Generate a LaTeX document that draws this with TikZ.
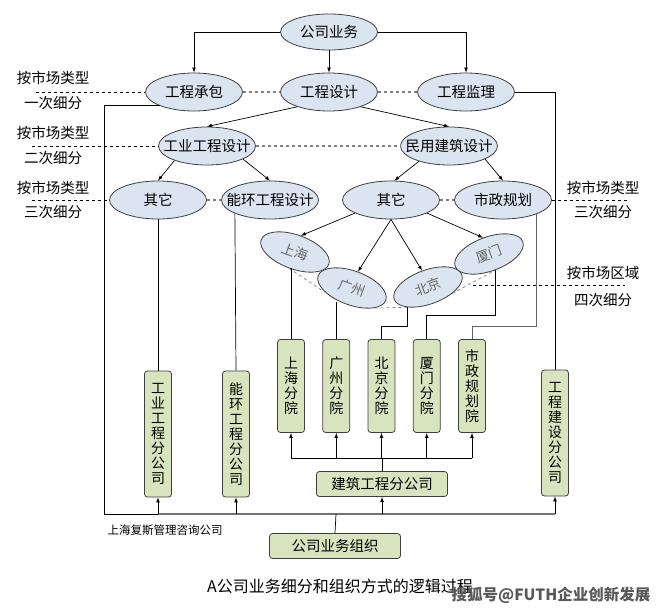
\documentclass[tikz,border=0pt]{standalone}
\usepackage{fontspec}
\setmainfont{Noto Sans CJK SC}
\usetikzlibrary{shapes.geometric, arrows}

\definecolor{ellblue}{HTML}{DBE5F1}
\definecolor{boxgreen}{HTML}{D7E4BD}
\definecolor{edgegray}{HTML}{3F3F3F}

\tikzstyle{market} = [
    ellipse,
    minimum width=97pt,
    minimum height=38pt,
    inner sep=0pt,
    fill=ellblue,
    draw=edgegray,
    line width=0.8pt
]
\tikzstyle{longname} = [inner xsep=-11pt]
\tikzstyle{region} = [
    ellipse,
    minimum width=72pt,
    minimum height=34pt,
    inner sep=0pt,
    fill=ellblue,
    draw=edgegray,
    line width=0.8pt,
    text=black!60,
    font=\fontsize{13.5}{13.5}\selectfont
]
\tikzstyle{branch} = [
    rectangle,
    rounded corners=3pt,
    minimum width=27pt,
    minimum height=93pt,
    inner sep=0pt,
    align=center,
    fill=boxgreen,
    draw=edgegray,
    line width=0.8pt,
    font=\fontsize{14}{15}\selectfont
]
\tikzstyle{company} = [
    rectangle,
    rounded corners=3pt,
    minimum width=131pt,
    minimum height=25pt,
    fill=boxgreen,
    draw=edgegray,
    line width=0.8pt
]
\tikzstyle{arrow} = [line width=0.7pt,->,>=latex]
\tikzstyle{link} = [line width=0.7pt]
\tikzstyle{busline} = [line width=1.4pt, draw=black!55]
\tikzstyle{sameline} = [dashed, line width=1.1pt, draw=black!50]
\tikzstyle{levelline} = [dashed, line width=0.7pt]

\begin{document}
\begin{tikzpicture}[x=1pt, y=-1pt, node distance=45.25pt,
    font=\fontsize{14.5}{15}\selectfont]

\useasboundingbox (0,0) rectangle (663,612);

\node (gsyw) [market, minimum height=36pt] at (329,32) {公司业务};

\node (gcsj) [market, below of=gsyw, node distance=60pt] {工程设计};
\node (gccb) [market, left of=gcsj, node distance=135pt] {工程承包};
\node (gcjl) [market, right of=gcsj, node distance=137pt] {工程监理};

\node (gygcsj) [market, longname] at (207,146) {工业工程设计};
\node (mjjzsj) [market, longname] at (449,146) {民用建筑设计};

\node (qt1) [market] at (158,200) {其它};
\node (nhgcsj) [market, longname] at (270,200) {能环工程设计};
\node (qt2) [market] at (391,200) {其它};
\node (szgh) [market] at (503,200) {市政规划};

\node (sh) [region, rotate=-20] at (295,252) {上海};
\node (gz) [region, rotate=-20] at (352,288) {广州};
\node (bj) [region, rotate=20] at (428,287) {北京};
\node (xm) [region, rotate=20] at (489,254) {厦门};

\node (shfy) [branch] at (291,386) {上\\海\\分\\院};
\node (gzfy) [branch, right of=shfy] {广\\州\\分\\院};
\node (bjfy) [branch, right of=gzfy] {北\\京\\分\\院};
\node (xmfy) [branch, right of=bjfy] {厦\\门\\分\\院};
\node (szgy) [branch, right of=xmfy] {市\\政\\规\\划\\院};

\node (gyfgs) [branch, minimum height=126pt] at (158,434)
{工\\业\\工\\程\\分\\公\\司};
\node (nhfgs) [branch, minimum height=126pt] at (236,434)
{能\\环\\工\\程\\分\\公\\司};
\node (gcjsfgs) [branch, minimum height=126pt] at (555,433)
{工\\程\\建\\设\\分\\公\\司};

\node (jzgs) [company] at (382,484) {建筑工程分公司};
\node (ywzz) [company] at (335,546) {公司业务组织};

% labels on the two sides
\node (l1a) at (53,78) {按市场类型};
\node (l1b) [below of=l1a, node distance=25pt] {一次细分};
\node (l2a) at (53,133) {按市场类型};
\node (l2b) [below of=l2a, node distance=25pt] {二次细分};
\node (l3a) at (53,188) {按市场类型};
\node (l3b) [below of=l3a, node distance=24pt] {三次细分};
\node (r3a) at (603,188) {按市场类型};
\node (r3b) [below of=r3a, node distance=24pt] {三次细分};
\node (r4a) at (603,273) {按市场区域};
\node (r4b) [below of=r4a, node distance=27pt] {四次细分};

\node (sign) [font=\fontsize{11.5}{12}\selectfont] at (165,530)
{上海复斯管理咨询公司};
\node (caption) [font=\fontsize{16}{16}\selectfont] at (340,586)
{A公司业务细分和组织方式的逻辑过程};
\node (mark) [font=\bfseries\fontsize{15.5}{16}\selectfont, text=black!65]
at (551,595) {搜狐号@FUTH企业创新发展};

\coordinate (d1) at (36,92);
\coordinate (d2) at (32,146);
\coordinate (d3) at (32,200);
\coordinate (e3) at (629,200);
\coordinate (d4) at (473,285);
\coordinate (e4) at (625,285);
\coordinate (bus) at (336,514);
\coordinate (corner) at (104,514);
\coordinate (jzbus) at (382,458);

% level lines
\draw [levelline] (d1) -- (gccb.west);
\draw [levelline] (d2) -- (gygcsj.west);
\draw [levelline] (d3) -- (qt1.west);
\draw [levelline] (szgh.east) -- (e3);
\draw [levelline] (d4) -- (e4);

\draw [sameline] (gccb) -- (gcsj);
\draw [sameline] (gcsj) -- (gcjl);
\draw [sameline] (gygcsj) -- (mjjzsj);
\draw [sameline] (qt1) -- (nhgcsj);
\draw [sameline] (qt2) -- (szgh);
\draw [sameline, line width=0.7pt] (sh.south) -- (gz.210);
\draw [sameline, line width=0.7pt] (gz.338) -- (bj.204);
\draw [sameline, line width=0.7pt] (bj.325) -- (xm.south);

% market split
\draw [arrow] (gsyw.west) -| (gccb.north);
\draw [arrow] (gsyw) -- (gcsj);
\draw [arrow] (gsyw.east) -| (gcjl.north);
\draw [arrow] (gcsj.205) -- (gygcsj.north);
\draw [arrow] (gcsj.335) -- (mjjzsj.north);
\draw [arrow] (gygcsj.204) -- (qt1.north);
\draw [arrow] (gygcsj.340) -- (nhgcsj.north);
\draw [arrow] (mjjzsj.207) -- (qt2.80);
\draw [arrow] (mjjzsj.340) -- (szgh.north);
\draw [arrow] (qt2.200) -- (sh.north);
\draw [arrow] (qt2.south) -- (gz.north);
\draw [arrow] (qt2.south) -- (bj.north);
\draw [arrow] (qt2.340) -- (xm.north);

% to the organisation
\draw [link] (qt1.south) -- (gyfgs.north);
\draw [link] (nhgcsj.201) -- (nhfgs.north);
\draw [link] (shfy.north) -- (shfy.north |- sh.south);
\draw [link] (gzfy.north) -- (gzfy.north |- gz.250);
\draw [link] (bj.205) -- ++(0,19) -| (bjfy.north);
\draw [link] (xm.south) -- ++(0,45) -| (xmfy.north);
\draw [link, draw=black!60] (szgh.337) -- ++(0,112) -| (szgy.north);
\draw [link] (gcjl.east) -| (gcjsfgs.north);
\draw [link] (gccb.202) -| (corner) -- (gyfgs.south |- corner);

\draw [busline] (gyfgs.south |- bus) -- (gcjsfgs.south |- bus);
\draw [link] (ywzz.north) -- (bus);
\draw [arrow] (gyfgs.south |- bus) -- (gyfgs.south);
\draw [arrow] (nhfgs.south |- bus) -- (nhfgs.south);
\draw [arrow] (jzgs.south |- bus) -- (jzgs.south);
\draw [arrow] (gcjsfgs.south |- bus) -- (gcjsfgs.south);

\draw [link] (jzgs.north) -- (jzbus);
\draw [link] (shfy.south |- jzbus) -- (szgy.south |- jzbus);
\draw [arrow] (shfy.south |- jzbus) -- (shfy.south);
\draw [arrow] (gzfy.south |- jzbus) -- (gzfy.south);
\draw [arrow] (bjfy.south |- jzbus) -- (bjfy.south);
\draw [arrow] (xmfy.south |- jzbus) -- (xmfy.south);
\draw [arrow] (szgy.south |- jzbus) -- (szgy.south);

\end{tikzpicture}
\end{document}
